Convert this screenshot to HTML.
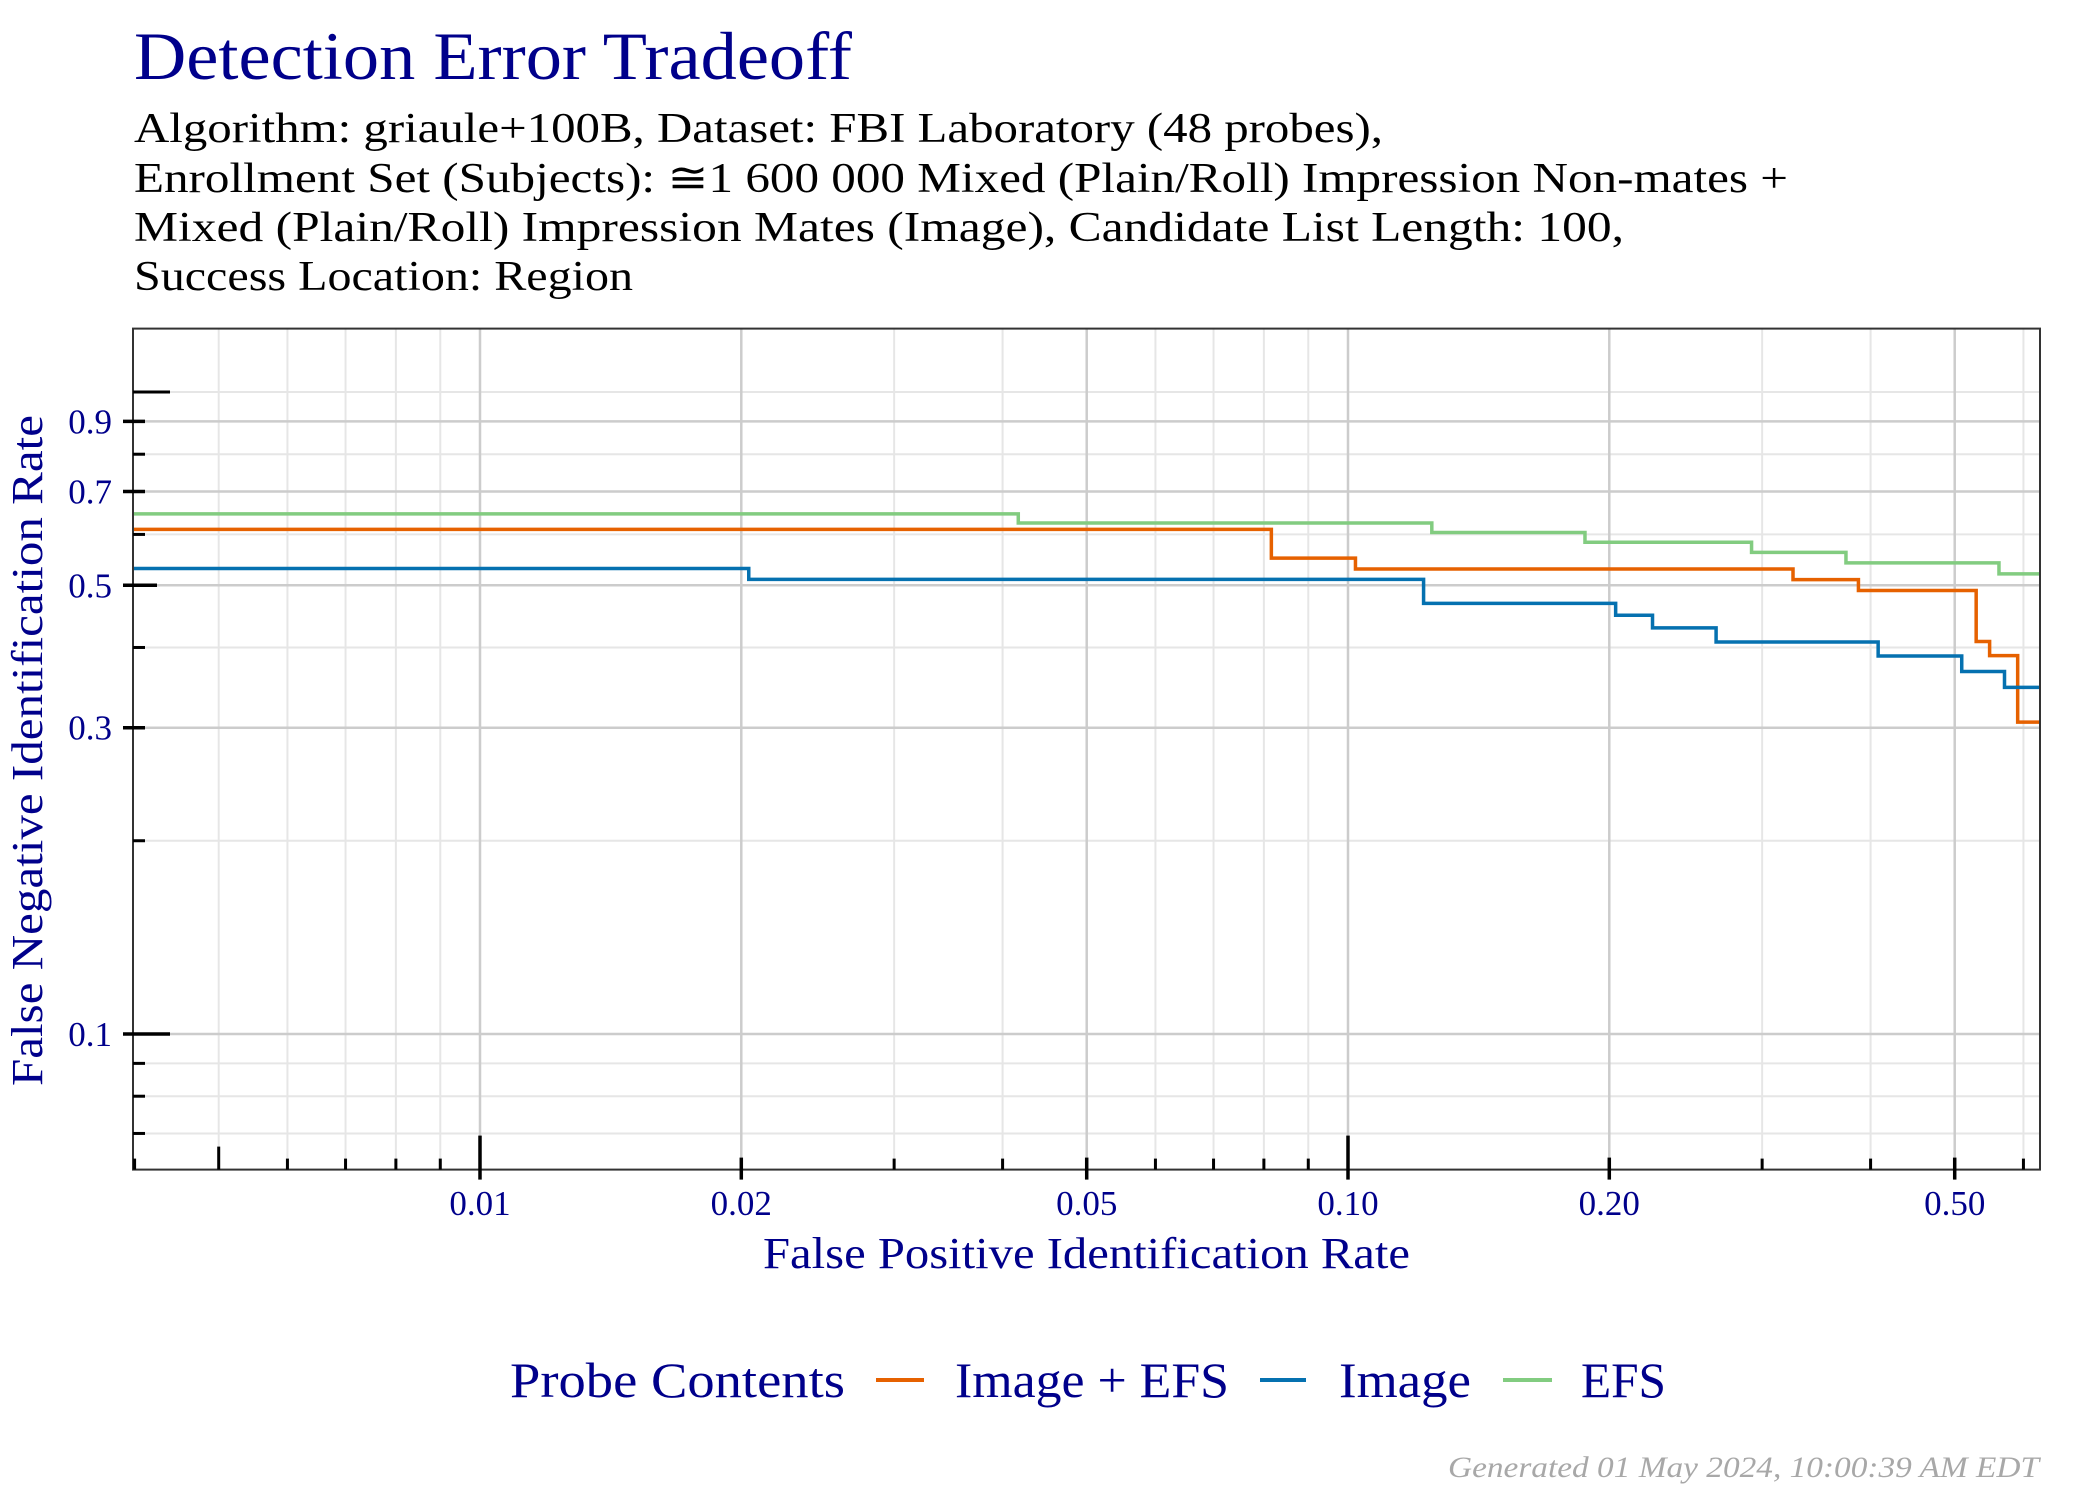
<!DOCTYPE html>
<html><head><meta charset="utf-8"><style>
html,body{margin:0;padding:0;background:#fff}
svg{display:block}
text{font-family:"Liberation Serif","DejaVu Serif",serif}
</style></head><body>
<svg id="chart" width="2100" height="1500" viewBox="0 0 2100 1500" xmlns="http://www.w3.org/2000/svg">
<rect width="2100" height="1500" fill="#fff"/>
<text x="134" y="79" font-size="68" fill="#00008B" textLength="718" lengthAdjust="spacingAndGlyphs">Detection Error Tradeoff</text>
<g font-size="42" fill="#000">
<text x="134" y="142" textLength="1249" lengthAdjust="spacingAndGlyphs">Algorithm: griaule+100B, Dataset: FBI Laboratory (48 probes),</text>
<text x="134" y="192" textLength="1654" lengthAdjust="spacingAndGlyphs">Enrollment Set (Subjects): ≅1 600 000 Mixed (Plain/Roll) Impression Non-mates +</text>
<text x="134" y="241" textLength="1490" lengthAdjust="spacingAndGlyphs">Mixed (Plain/Roll) Impression Mates (Image), Candidate List Length: 100,</text>
<text x="134" y="290" textLength="499" lengthAdjust="spacingAndGlyphs">Success Location: Region</text>
</g>
<g id="grid"></g>
<g id="series"></g>
<rect x="133" y="328.6" width="1907" height="841" fill="none" stroke="#333" stroke-width="2"/>
<g id="ticks"></g>
<g id="labels" fill="#00008B" font-size="35"></g>
<text x="763" y="1268" font-size="44" fill="#00008B" textLength="647" lengthAdjust="spacingAndGlyphs">False Positive Identification Rate</text>
<text transform="translate(42,1086) rotate(-90)" x="0" y="0" font-size="44" fill="#00008B" textLength="671" lengthAdjust="spacingAndGlyphs">False Negative Identification Rate</text>
<g font-size="50" fill="#00008B">
<text x="510" y="1397" textLength="335" lengthAdjust="spacingAndGlyphs">Probe Contents</text>
<line x1="876" y1="1380" x2="924" y2="1380" stroke="#E66100" stroke-width="4"/>
<text x="955" y="1397" textLength="274" lengthAdjust="spacingAndGlyphs">Image + EFS</text>
<line x1="1260" y1="1380" x2="1306" y2="1380" stroke="#0571B0" stroke-width="4"/>
<text x="1339" y="1397" textLength="132" lengthAdjust="spacingAndGlyphs">Image</text>
<line x1="1503" y1="1380" x2="1552" y2="1380" stroke="#82CC80" stroke-width="4"/>
<text x="1581" y="1397" textLength="85" lengthAdjust="spacingAndGlyphs">EFS</text>
</g>
<text x="1448" y="1477" font-size="30" font-style="italic" fill="#a8a8a8" textLength="591" lengthAdjust="spacingAndGlyphs">Generated 01 May 2024, 10:00:39 AM EDT</text>
</svg>
<script>
// Data
const xMajorTicks = [0.01, 0.02, 0.05, 0.1, 0.2, 0.5];
const xTickLabels = ["0.01", "0.02", "0.05", "0.10", "0.20", "0.50"];
const xMinorTicks = [0.004, 0.005, 0.006, 0.007, 0.008, 0.009, 0.03, 0.04, 0.06, 0.07, 0.08, 0.09, 0.3, 0.4, 0.6];
const yMajorTicks = [0.1, 0.3, 0.5, 0.7, 0.9];
const yTickLabels = ["0.1", "0.3", "0.5", "0.7", "0.9"];
const yMinorTicks = [0.07, 0.08, 0.09, 0.2, 0.4, 0.6, 0.8, 1.0];
const seriesNames = ["image-efs", "image", "efs"];
const seriesColors = ["#E66100", "#0571B0", "#82CC80"];
// step change FPIR values (x) and FNIR levels (y, one more than x)
const imgEfsX = [0.0816, 0.102, 0.3256, 0.3873, 0.5293, 0.5485, 0.5909];
const imgEfsY = [0.611, 0.551, 0.530, 0.5103, 0.4906, 0.4086, 0.3885, 0.306];
const imageX = [0.0204, 0.1222, 0.2034, 0.2243, 0.2655, 0.4081, 0.5094, 0.5706];
const imageY = [0.531, 0.5106, 0.4685, 0.4491, 0.4291, 0.408, 0.388, 0.367, 0.3467];
const efsX = [0.0417, 0.1249, 0.1875, 0.2917, 0.3747, 0.5623];
const efsY = [0.6458, 0.625, 0.6042, 0.5833, 0.5625, 0.5417, 0.5208];

const X0 = 133, X1 = 2040, Y0 = 328.6, Y1 = 1169.6;
const XMIN = 0.004, XMAX = 0.627;
function xs(v){ return 1348 + 868 * (Math.log10(v) + 1); }
function ys(v){ return 392 - 642 * Math.log10(v); }
const NS = "http://www.w3.org/2000/svg";
function mk(tag, attrs, parent){
  const e = document.createElementNS(NS, tag);
  for (const k in attrs) e.setAttribute(k, attrs[k]);
  parent.appendChild(e); return e;
}
const grid = document.getElementById('grid');
const ticks = document.getElementById('ticks');
const labels = document.getElementById('labels');

xMinorTicks.forEach(v => {
  const x = xs(v);
  if (v > XMIN) {
    const g = mk('line', {x1:x, x2:x, y1:Y0, y2:Y1, stroke:'#e6e6e6', 'stroke-width':2}, grid);
    
    
  }
  const long = Math.abs(v - 0.005) < 1e-9;
  const t = mk('line', {x1:x, x2:x, y1:Y1, y2:Y1 - (long ? 23 : 11), stroke:'#000', 'stroke-width':3}, ticks);
  
  
});
yMinorTicks.forEach(v => {
  const y = ys(v);
  const g = mk('line', {x1:X0, x2:X1, y1:y, y2:y, stroke:'#e6e6e6', 'stroke-width':2}, grid);
  
  
  const long = Math.abs(v - 1) < 1e-9;
  const t = mk('line', {x1:X0, x2:X0 + (long ? 37 : 12), y1:y, y2:y, stroke:'#000', 'stroke-width':3}, ticks);
  
  
});
xMajorTicks.forEach((v, i) => {
  const x = xs(v);
  const g = mk('line', {x1:x, x2:x, y1:Y0, y2:Y1, stroke:'#cccccc', 'stroke-width':2.5}, grid);
  
  
  const long = (v === 0.01 || v === 0.1);
  const t = mk('line', {x1:x, x2:x, y1:Y1 + 10, y2:Y1 - (long ? 34 : 12), stroke:'#000', 'stroke-width':3.5}, ticks);
  
  
  const l = mk('text', {x:x, y:1215, 'text-anchor':'middle'}, labels);
  l.textContent = xTickLabels[i];
  
  
});
yMajorTicks.forEach((v, i) => {
  const y = ys(v);
  const g = mk('line', {x1:X0, x2:X1, y1:y, y2:y, stroke:'#cccccc', 'stroke-width':2.5}, grid);
  
  
  const len = (v === 0.1) ? 37 : (v === 0.5 ? 24 : 12);
  const t = mk('line', {x1:X0 - 10, x2:X0 + len, y1:y, y2:y, stroke:'#000', 'stroke-width':3.5}, ticks);
  
  
  const l = mk('text', {x:112, y:y + 12, 'text-anchor':'end'}, labels);
  l.textContent = yTickLabels[i];
  
  
});

const series = document.getElementById('series');
const allX = [imgEfsX, imageX, efsX], allY = [imgEfsY, imageY, efsY];
allX.forEach((sx, si) => {
  const sy = allY[si];
  let d = 'M' + X0 + ',' + ys(sy[0]).toFixed(2);
  sx.forEach((xv, j) => {
    const x = xs(xv).toFixed(2);
    d += ' H' + x + ' V' + ys(sy[j + 1]).toFixed(2);
  });
  d += ' H' + X1;
  const p = mk('path', {d:d, fill:'none', stroke:seriesColors[si], 'stroke-width':3.5}, series);
  
  
});
</script>
</body></html>
